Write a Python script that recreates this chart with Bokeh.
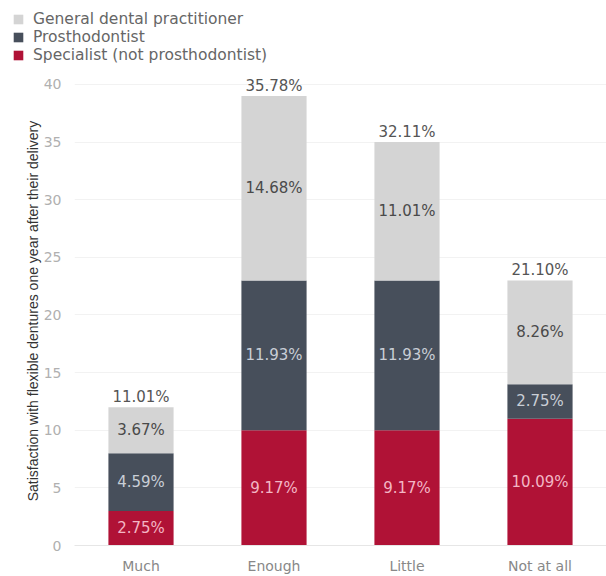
from bokeh.plotting import figure
from bokeh.layouts import column
from bokeh.models import ColumnDataSource, Legend, LegendItem, LabelSet, FactorRange, Range1d, FixedTicker
from bokeh.core.properties import value
from bokeh.embed import file_html
from bokeh.resources import INLINE

categories = ["Much", "Enough", "Little", "Not at all"]
series_names = ["Specialist (not prosthodontist)", "Prosthodontist", "General dental practitioner"]
specialist = [3, 10, 10, 11]
prosthodontist = [5, 13, 13, 3]
general = [4, 16, 12, 9]
specialist_pct = ["2.75%", "9.17%", "9.17%", "10.09%"]
prosth_pct = ["4.59%", "11.93%", "11.93%", "2.75%"]
general_pct = ["3.67%", "14.68%", "11.01%", "8.26%"]
total_pct = ["11.01%", "35.78%", "32.11%", "21.10%"]
y_ticks = [0, 5, 10, 15, 20, 25, 30, 35, 40]

colors = ["#b01236", "#474f5b", "#d4d4d4"]
label_colors = ["#f3b6c5", "#c9ced6", "#4a4a4a"]
FONT = "DejaVu Sans"

s_top = specialist
p_top = [a + b for a, b in zip(specialist, prosthodontist)]
g_top = [a + b for a, b in zip(p_top, general)]

src = ColumnDataSource(dict(
    cat=categories,
    spec=specialist, pros=prosthodontist, gen=general,
    spec_mid=[v / 2 for v in specialist],
    pros_mid=[a + b / 2 for a, b in zip(s_top, prosthodontist)],
    gen_mid=[a + b / 2 for a, b in zip(p_top, general)],
    total=g_top,
    spec_pct=specialist_pct, pros_pct=prosth_pct, gen_pct=general_pct, tot_pct=total_pct,
))

LEG_H = 72

# ---- legend strip (hidden renderers, legend only) ----
pl = figure(width=606, height=LEG_H, output_backend="svg", toolbar_location=None,
            x_range=FactorRange(*categories), y_range=Range1d(0, 40),
            x_axis_location=None, y_axis_location=None,
            min_border_left=0, min_border_right=0, min_border_top=0, min_border_bottom=0)
pl.outline_line_color = None
pl.grid.grid_line_color = None
lr = pl.vbar_stack(["spec", "pros", "gen"], x="cat", width=0.49, color=colors,
                   source=src, line_color=None)
for r in lr:
    r.visible = False
legend = Legend(items=[LegendItem(label=series_names[2], renderers=[lr[2]]),
                       LegendItem(label=series_names[1], renderers=[lr[1]]),
                       LegendItem(label=series_names[0], renderers=[lr[0]])],
                location=(12, 8), orientation="vertical", margin=0, padding=0,
                spacing=0, glyph_width=12, glyph_height=12, label_height=17,
                label_standoff=9, label_text_font=FONT, label_text_font_size="15.5px",
                label_text_color="#666666", border_line_alpha=0, background_fill_alpha=0,
                inactive_fill_alpha=0)
pl.add_layout(legend, "center")

# ---- main chart ----
TOP_GAP = 4
p = figure(x_range=FactorRange(*categories), y_range=Range1d(0, 40.69),
           width=606, height=576 - LEG_H, output_backend="svg", toolbar_location=None,
           min_border_left=74, min_border_right=0, min_border_top=TOP_GAP,
           min_border_bottom=28)
p.outline_line_color = None

rs = p.vbar_stack(["spec", "pros", "gen"], x="cat", width=0.49, color=colors,
                  source=src, line_color=None)

for ycol, tcol, c in [("spec_mid", "spec_pct", label_colors[0]),
                      ("pros_mid", "pros_pct", label_colors[1]),
                      ("gen_mid", "gen_pct", label_colors[2])]:
    p.add_layout(LabelSet(x="cat", y=ycol, text=tcol, source=src, text_align="center",
                          text_baseline="middle", text_color=c, text_font=value(FONT),
                          text_font_size="15px"))
p.add_layout(LabelSet(x="cat", y="total", text="tot_pct", source=src, text_align="center",
                      text_baseline="bottom", y_offset=1, text_color="#555555",
                      text_font=value(FONT), text_font_size="15px"))

p.yaxis.ticker = FixedTicker(ticks=y_ticks)
p.yaxis.axis_line_color = None
p.yaxis.major_tick_line_color = None
p.yaxis.minor_tick_line_color = None
p.yaxis.major_label_text_color = "#b0b0b0"
p.yaxis.major_label_text_font = FONT
p.yaxis.major_label_text_font_size = "14px"
p.yaxis.major_label_standoff = 7
p.yaxis.axis_label = "Satisfaction with flexible dentures one year after their delivery"
p.yaxis.axis_label_text_font = "Liberation Sans"
p.yaxis.axis_label_text_font_style = "normal"
p.yaxis.axis_label_text_font_size = "14px"
p.yaxis.axis_label_text_color = "#333333"
p.yaxis.axis_label_standoff = 0

p.xaxis.axis_line_color = "#e6e6e6"
p.xaxis.major_tick_line_color = None
p.xaxis.minor_tick_line_color = None
p.xaxis.major_label_text_color = "#888888"
p.xaxis.major_label_text_font = FONT
p.xaxis.major_label_text_font_size = "14px"
p.xaxis.major_label_standoff = 6

p.xgrid.grid_line_color = None
p.ygrid.grid_line_color = "#f2f2f2"

for fig in (pl, p):
    if hasattr(fig, "frame_align"):
        fig.frame_align = False

layout = column(pl, p, spacing=0)
open("out.html", "w").write(file_html(layout, INLINE))
